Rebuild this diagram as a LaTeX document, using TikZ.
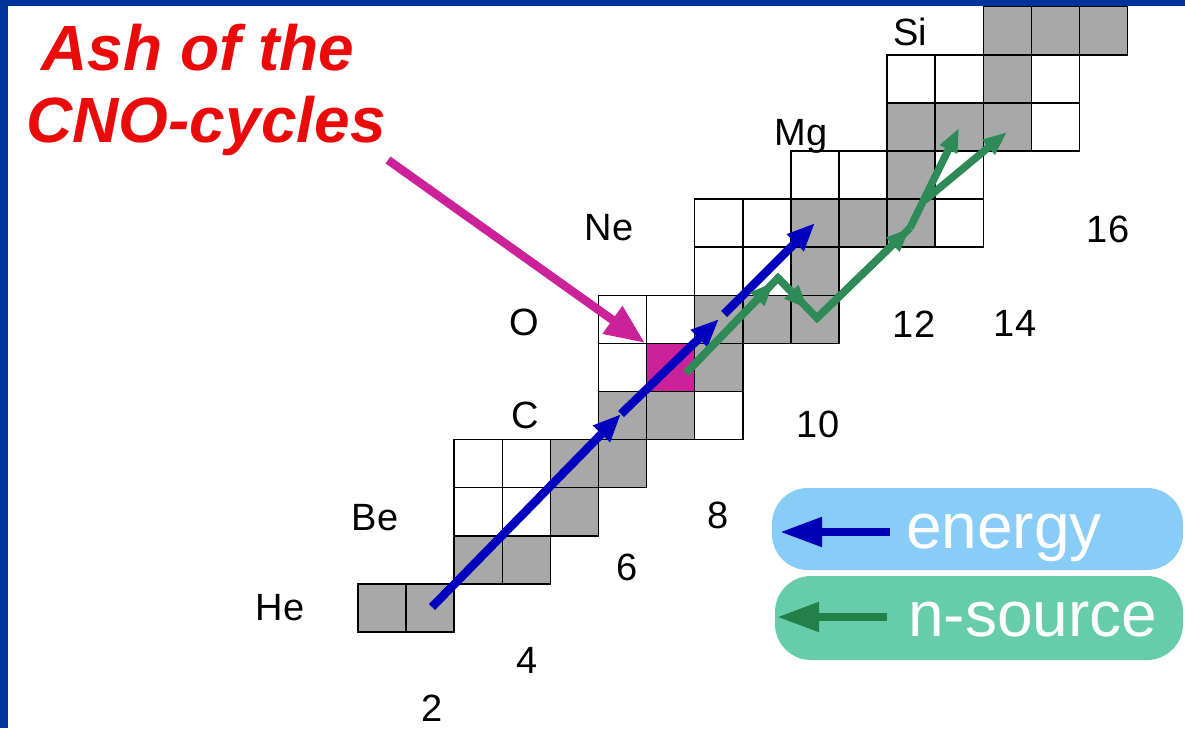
\documentclass[tikz,border=0pt]{standalone}
\usepackage{fontspec}
\setmainfont{Liberation Sans}
\usetikzlibrary{arrows.meta}
\definecolor{bord}{RGB}{0,51,153}
\definecolor{cellgray}{RGB}{168,168,168}
\definecolor{ashmag}{RGB}{204,34,153}
\definecolor{enblue}{RGB}{0,0,190}
\definecolor{ngreen}{RGB}{46,139,87}
\definecolor{ashred}{RGB}{235,10,10}
\definecolor{legblue}{RGB}{136,204,248}
\definecolor{leggreen}{RGB}{102,204,170}
\definecolor{legdkgreen}{RGB}{34,128,72}
\definecolor{legdkblue}{RGB}{0,0,180}
\tikzset{
  cellbox/.style={draw=black, line width=1.5pt},
  lab/.style={font=\fontsize{38}{40}\selectfont, inner sep=0pt, anchor=base, text=black},
  ashtext/.style={font=\fontsize{64}{70}\selectfont\bfseries\itshape, inner sep=0pt, anchor=base, text=ashred},
  magarrow/.style={draw=ashmag, line width=8.5pt, -{Triangle[length=40pt,width=32pt]}},
  barrow/.style={draw=enblue, line width=8.5pt, -{Triangle[length=28pt,width=22pt]}},
  gline/.style={draw=ngreen, line width=7.5pt, line join=miter},
  garrow/.style={draw=ngreen, line width=7.5pt, -{Triangle[length=24pt,width=18pt]}},
  legbox/.style={rounded corners=36pt, inner sep=0pt},
  legarrow/.style={line width=8pt, -{Triangle[length=42pt,width=28pt]}},
  legtext/.style={font=\fontsize{64}{70}\selectfont, text=white, inner sep=0pt, anchor=base west}
}
\begin{document}
\begin{tikzpicture}[x=1pt,y=-1pt]
\useasboundingbox (0,0) rectangle (1185,728);
\fill[white] (0,0) rectangle (1185,728);
\fill[bord] (0,0) rectangle (1185,6);
\fill[bord] (0,0) rectangle (8,728);

% chart cells: column/row(from bottom)/fill
\foreach \i/\j/\c in {
  0/0/cellgray, 1/0/cellgray,
  2/1/cellgray, 3/1/cellgray,
  2/2/white, 3/2/white, 4/2/cellgray,
  2/3/white, 3/3/white, 4/3/cellgray, 5/3/cellgray,
  5/4/cellgray, 6/4/cellgray, 7/4/white,
  5/5/white, 6/5/ashmag, 7/5/cellgray,
  5/6/white, 6/6/white, 7/6/cellgray, 8/6/cellgray, 9/6/cellgray,
  7/7/white, 8/7/white, 9/7/cellgray,
  7/8/white, 8/8/white, 9/8/cellgray, 10/8/cellgray, 11/8/cellgray, 12/8/white,
  9/9/white, 10/9/white, 11/9/cellgray, 12/9/white,
  11/10/cellgray, 12/10/cellgray, 13/10/cellgray, 14/10/white,
  11/11/white, 12/11/white, 13/11/cellgray, 14/11/white,
  13/12/cellgray, 14/12/cellgray, 15/12/cellgray}
  \draw[cellbox, fill=\c] ({358+48.1*\i},{632-48.1*\j}) rectangle ++(48.1,-48.1);

% element labels
\node[lab] (he) at (280,620) {He};
\node[lab] (be) at (375,530) {Be};
\node[lab] (c) at (525,428) {C};
\node[lab] (o) at (524,335) {O};
\node[lab] (ne) at (609,240) {Ne};
\node[lab] (mg) at (801,145) {Mg};
\node[lab] (si) at (910,45) {Si};
% mass numbers
\node[lab] (n2) at (432,721) {2};
\node[lab] (n4) at (527,673) {4};
\node[lab] (n6) at (627,580) {6};
\node[lab] (n8) at (718,528) {8};
\node[lab] (n10) at (818,437) {10};
\node[lab] (n12) at (914,337) {12};
\node[lab] (n14) at (1015,336) {14};
\node[lab] (n16) at (1108,242) {16};

% title
\node[ashtext] (ash1) at (198,70) {Ash of the};
\node[ashtext] (ash2) at (206,142) {CNO-cycles};

% magenta pointer
\coordinate (m0) at (388,160);
\coordinate (m1) at (645,343);
\draw[magarrow] (m0) -- (m1);

% energy path (blue)
\coordinate (b0) at (432,607);
\coordinate (b1) at (621,414);
\coordinate (b2) at (719,319);
\coordinate (b3) at (724,314);
\coordinate (b4) at (815,223);
\draw[barrow] (b0) -- (b1);
\draw[barrow] (b1) -- (b2);
\draw[barrow] (b3) -- (b4);

% n-source path (green)
\coordinate (g0) at (686,373);
\coordinate (g1) at (778,278);
\coordinate (g1a) at (774,282);
\coordinate (g2) at (817,318);
\coordinate (g2a) at (808,309);
\coordinate (g3) at (910,228);
\coordinate (g4) at (959,128);
\coordinate (g5) at (925,200);
\coordinate (g6) at (1007,132);
\draw[gline] (g0) -- (g1) -- (g2) -- (g3);
\draw[garrow] (g0) -- (g1a);
\draw[garrow] (g1) -- (g2a);
\draw[garrow] (g2) -- (g3);
\draw[garrow] (g3) -- (g4);
\draw[garrow] (g5) -- (g6);

% legend
\node[legbox, fill=legblue, minimum width=411pt, minimum height=82pt] (legE) at (977.5,529) {};
\node[legbox, fill=leggreen, minimum width=408pt, minimum height=84pt] (legN) at (979,618) {};
\coordinate (le0) at (890,532);
\coordinate (le1) at (780,532);
\coordinate (ln0) at (887,617);
\coordinate (ln1) at (777,617);
\draw[legarrow, draw=legdkblue, fill=legdkblue] (le0) -- (le1);
\draw[legarrow, draw=legdkgreen, fill=legdkgreen] (ln0) -- (ln1);
\node[legtext] (tE) at (906,548) {energy};
\node[legtext] (tN) at (908,636) {n-source};
\end{tikzpicture}
\end{document}
